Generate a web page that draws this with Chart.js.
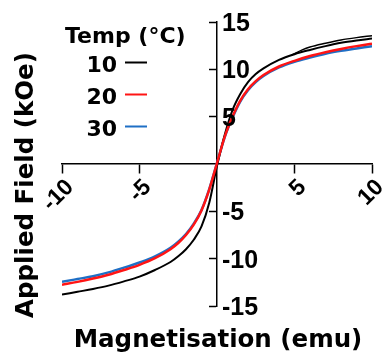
<!DOCTYPE html>
<html>
<head>
<meta charset="utf-8">
<script src="https://cdn.jsdelivr.net/npm/chart.js@4.4.0/dist/chart.umd.min.js"></script>
<style>
    html, body { margin: 0; padding: 0; background: #fff; }
</style>
</head>
<body>
<canvas id="magChart" width="385" height="354"></canvas>
<script>
// magnetisation (emu), shared by the three runs
const magnetisation = [-10, -9, -8, -7, -6, -5, -4, -3, -2.5, -2, -1.5, -1, -0.5, 0, 0.5, 1, 1.5, 2, 2.5, 3, 4, 5, 6, 7, 8, 9, 10];

// applied field (kOe) per temperature
const field10 = [-13.8, -13.5, -13.2, -12.85, -12.4, -11.9, -11.2, -10.35, -9.75, -9.0, -8.0, -6.6, -4.1, -0.2, 3.1, 5.7, 7.4, 8.65, 9.5, 10.1, 11.0, 11.6, 12.05, 12.45, 12.8, 13.05, 13.25];
const field20 = [-12.75, -12.45, -12.1, -11.7, -11.2, -10.65, -9.95, -9.0, -8.35, -7.5, -6.4, -4.9, -2.7, 0.1, 2.9, 5.0, 6.7, 7.9, 8.75, 9.4, 10.3, 10.9, 11.4, 11.8, 12.15, 12.45, 12.7];
const field30 = [-12.45, -12.15, -11.85, -11.45, -10.95, -10.4, -9.75, -8.85, -8.2, -7.4, -6.3, -4.85, -2.65, 0.1, 2.85, 4.9, 6.6, 7.8, 8.65, 9.3, 10.2, 10.8, 11.25, 11.65, 11.95, 12.2, 12.45];

// 10 °C return branch (small loop at high field)
const loopMag10 = [4.8, 5.5, 6, 7, 8, 9, 10];
const loopField10 = [11.5, 12.05, 12.35, 12.75, 13.1, 13.35, 13.55];

const temps = ['10', '20', '30'];
const colors = ['#000000', '#ff1414', '#1f6fc5'];
const xTicks = [-10, -5, 5, 10];
const yTicks = [-15, -10, -5, 5, 10, 15];

const numFont = "'Liberation Sans', Arial, sans-serif";
const textFont = "'DejaVu Sans', sans-serif";

function pts(xs, ys) {
    return xs.map((v, i) => ({x: v, y: ys[i]}));
}

// legend, axis titles and the y tick labels (which sit right of the axis)
const overlay = {
    id: 'overlay',
    afterDraw(chart) {
        const ctx = chart.ctx;
        const xs = chart.scales.x;
        const ys = chart.scales.y;
        ctx.save();
        ctx.fillStyle = '#000';

        ctx.font = 'bold 25px ' + numFont;
        ctx.textAlign = 'left';
        ctx.textBaseline = 'middle';
        const x0 = xs.getPixelForValue(0);
        yTicks.forEach(v => {
            ctx.fillText(String(v), x0 + 5, ys.getPixelForValue(v) + 2);
        });

        // legend
        ctx.textBaseline = 'alphabetic';
        ctx.font = 'bold 22px ' + textFont;
        ctx.fillText('Temp (°C)', 65, 43);
        ctx.textAlign = 'right';
        temps.forEach((t, i) => {
            const base = 72 + i * 32;
            ctx.fillStyle = '#000';
            ctx.fillText(t, 117, base);
            ctx.strokeStyle = colors[i];
            ctx.lineWidth = 2;
            ctx.beginPath();
            ctx.moveTo(125, base - 9.5);
            ctx.lineTo(147, base - 9.5);
            ctx.stroke();
        });

        // axis titles
        ctx.fillStyle = '#000';
        ctx.font = 'bold 24.5px ' + textFont;
        ctx.textAlign = 'center';
        ctx.fillText('Magnetisation (emu)', 218, 347);
        ctx.translate(33, 185);
        ctx.rotate(-Math.PI / 2);
        ctx.fillText('Applied Field (kOe)', 0, 0);
        ctx.restore();
    }
};

const ctx = document.getElementById('magChart').getContext('2d');
const magChart = new Chart(ctx, {
    type: 'line',
    data: {
        datasets: [
            {label: temps[0], data: pts(magnetisation, field10), borderColor: colors[0], borderWidth: 2, order: 1},
            {label: temps[0], data: pts(loopMag10, loopField10), borderColor: colors[0], borderWidth: 1.5, order: 1},
            {label: temps[1], data: pts(magnetisation, field20), borderColor: colors[1], borderWidth: 2.5, order: 0},
            {label: temps[2], data: pts(magnetisation, field30), borderColor: colors[2], borderWidth: 2.5, order: 2}
        ]
    },
    options: {
        responsive: false,
        devicePixelRatio: 1,
        animation: false,
        layout: {
            padding: {left: 62, right: 13, top: 22, bottom: 48}
        },
        elements: {
            point: {radius: 0},
            line: {cubicInterpolationMode: 'monotone', fill: false}
        },
        scales: {
            x: {
                type: 'linear',
                min: -10,
                max: 10,
                position: {y: 0},
                afterBuildTicks: s => { s.ticks = xTicks.map(v => ({value: v})); },
                // rotated labels should not squeeze the plot area
                afterFit: s => { s.paddingLeft = 0; s.paddingRight = 0; },
                grid: {drawOnChartArea: false, drawTicks: true, tickLength: 9, tickWidth: 1.5, tickColor: '#000'},
                border: {color: '#000', width: 1.5},
                ticks: {
                    color: '#000',
                    autoSkip: false,
                    minRotation: 45,
                    maxRotation: 45,
                    padding: 1,
                    labelOffset: 8,
                    font: {family: numFont, weight: 'bold', size: 23},
                    callback: v => String(v)
                }
            },
            y: {
                type: 'linear',
                min: -15,
                max: 15,
                position: {x: 0},
                afterBuildTicks: s => { s.ticks = yTicks.map(v => ({value: v})); },
                afterFit: s => { s.paddingTop = 0; s.paddingBottom = 0; },
                grid: {drawOnChartArea: false, drawTicks: true, tickLength: 7, tickWidth: 1.5, tickColor: '#000'},
                border: {color: '#000', width: 1.5},
                ticks: {display: false}
            }
        },
        plugins: {
            legend: {display: false},
            tooltip: {enabled: false}
        }
    },
    plugins: [overlay]
});
</script>
</body>
</html>
